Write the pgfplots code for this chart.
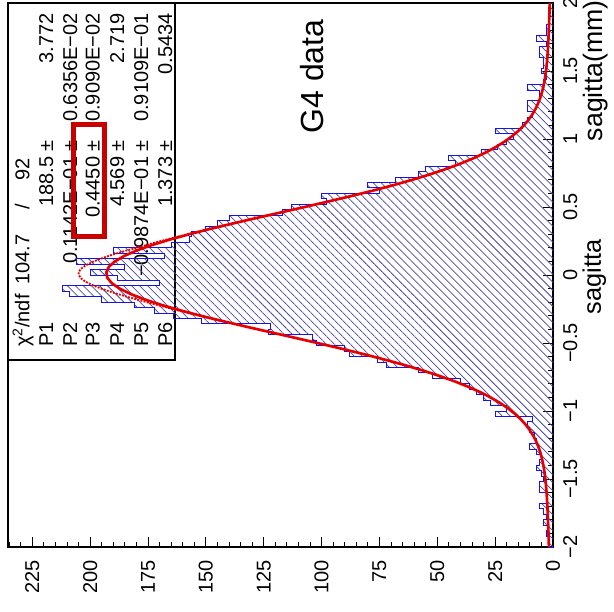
\documentclass[border=0pt]{standalone}
\usepackage{fontspec}
\setmainfont{Liberation Sans}
\usepackage{pgfplots}
\pgfplotsset{compat=1.18}
\usetikzlibrary{patterns.meta}
\definecolor{histblue}{RGB}{20,20,235}
\definecolor{hatchblue}{RGB}{70,70,165}
\definecolor{fitred}{RGB}{232,0,0}
\definecolor{boxred}{RGB}{200,0,0}
\newcommand\stf{\fontsize{15}{18}\selectfont}
\begin{document}
\begin{tikzpicture}
\begin{axis}[
  scale only axis, width=408.75pt, height=408pt,
  at={(0,0)}, anchor=south west,
  xmin=0, xmax=235.5, ymin=-2, ymax=2,
  x dir=reverse, clip=false,
  axis line style={line width=1pt, black},
  xtick={0,25,...,225}, xticklabels={0,25,50,75,100,125,150,175,200,225},
  minor xtick={5,10,...,235},
  ytick={-2,-1.5,...,2}, yticklabels={−2,−1.5,−1,−0.5,0,0.5,1,1.5,2},
  minor ytick={-1.9,-1.8,...,1.9},
  xtick pos=left, ytick pos=right, yticklabel pos=right,
  tick align=inside,
  major tick length=7.5pt, minor tick length=3.75pt,
  every tick/.style={black, line width=0.75pt},
  xticklabel style={font=\stf, inner sep=0pt, yshift=-9.75pt, rotate=90, anchor=east},
  yticklabel style={font=\stf, inner sep=0pt, xshift=7.5pt, rotate=90, anchor=north},
]
% stats box
\draw[line width=1pt, black] (axis cs:235.5,2) rectangle (axis cs:163.3,-0.625);
\begin{scope}[every node/.style={font=\stf, inner sep=0pt, rotate=90}]
\node[anchor=base west] at (axis cs:226.3,-0.529) {χ\textsuperscript{2}/ndf};
\node[anchor=base east] at (axis cs:226.3,0.301) {104.7};
\node[anchor=base] at (axis cs:226.3,0.5) {/};
\node[anchor=base east] at (axis cs:226.3,0.86) {92};
\node[anchor=base west] at (axis cs:216.0,-0.529) {P1};
\node[anchor=base east] at (axis cs:216.0,0.993) {188.5 ±};
\node[anchor=base east] at (axis cs:216.0,1.926) {3.772};
\node[anchor=base west] at (axis cs:205.6,-0.529) {P2};
\node[anchor=base east] at (axis cs:205.6,0.993) {0.1142E−01 ±};
\node[anchor=base east] at (axis cs:205.6,1.926) {0.6356E−02};
\node[anchor=base west] at (axis cs:195.9,-0.529) {P3};
\node[anchor=base east] at (axis cs:195.9,0.993) {0.4450 ±};
\node[anchor=base east] at (axis cs:195.9,1.926) {0.9090E−02};
\node[anchor=base west] at (axis cs:185.3,-0.529) {P4};
\node[anchor=base east] at (axis cs:185.3,0.993) {4.569 ±};
\node[anchor=base east] at (axis cs:185.3,1.926) {2.719};
\node[anchor=base west] at (axis cs:174.9,-0.529) {P5};
\node[anchor=base east] at (axis cs:174.9,0.993) {−0.9874E−01 ±};
\node[anchor=base east] at (axis cs:174.9,1.926) {0.9109E−01};
\node[anchor=base west] at (axis cs:164.6,-0.529) {P6};
\node[anchor=base east] at (axis cs:164.6,0.993) {1.373 ±};
\node[anchor=base east] at (axis cs:164.6,1.926) {0.5434};
\end{scope}
% histogram (counts per bin of 0.04)
\addplot[draw=histblue, line width=0.75pt, pattern={Lines[angle=-45,distance=4.25pt,line width=0.55pt]}, pattern color=hatchblue] coordinates {
(0,-2.00)
(2,-2.00) (2,-1.96) (2,-1.96) (2,-1.92) (3,-1.92) (3,-1.88) (2,-1.88) (2,-1.84)
(4,-1.84) (4,-1.80) (3,-1.80) (3,-1.76) (4,-1.76) (4,-1.72) (6,-1.72) (6,-1.68)
(3,-1.68) (3,-1.64) (3,-1.64) (3,-1.60) (6,-1.60) (6,-1.56) (6,-1.56) (6,-1.52)
(4,-1.52) (4,-1.48) (5,-1.48) (5,-1.44) (7,-1.44) (7,-1.40) (6,-1.40) (6,-1.36)
(5,-1.36) (5,-1.32) (7,-1.32) (7,-1.28) (10,-1.28) (10,-1.24) (7,-1.24) (7,-1.20)
(8,-1.20) (8,-1.16) (10,-1.16) (10,-1.12) (11,-1.12) (11,-1.08) (9,-1.08) (9,-1.04)
(25,-1.04) (25,-1.00) (20,-1.00) (20,-0.96) (27,-0.96) (27,-0.92) (30,-0.92) (30,-0.88)
(33,-0.88) (33,-0.84) (36,-0.84) (36,-0.80) (40,-0.80) (40,-0.76) (52,-0.76) (52,-0.72)
(58,-0.72) (58,-0.68) (72,-0.68) (72,-0.64) (76,-0.64) (76,-0.60) (88,-0.60) (88,-0.56)
(90,-0.56) (90,-0.52) (102,-0.52) (102,-0.48) (104,-0.48) (104,-0.44) (123,-0.44) (123,-0.40)
(122,-0.40) (122,-0.36) (152,-0.36) (152,-0.32) (164,-0.32) (164,-0.28) (172,-0.28) (172,-0.24)
(181,-0.24) (181,-0.20) (195,-0.20) (195,-0.16) (209,-0.16) (209,-0.12) (212,-0.12) (212,-0.08)
(170,-0.08) (170,-0.04) (188,-0.04) (188,0.00) (200,0.00) (200,0.04) (185,0.04) (185,0.08)
(206,0.08) (206,0.12) (168,0.12) (168,0.16) (190,0.16) (190,0.20) (165,0.20) (165,0.24)
(157,0.24) (157,0.28) (156,0.28) (156,0.32) (150,0.32) (150,0.36) (145,0.36) (145,0.40)
(140,0.40) (140,0.44) (117,0.44) (117,0.48) (113,0.48) (113,0.52) (98,0.52) (98,0.56)
(100,0.56) (100,0.60) (75,0.60) (75,0.64) (80,0.64) (80,0.68) (68,0.68) (68,0.72)
(58,0.72) (58,0.76) (55,0.76) (55,0.80) (42,0.80) (42,0.84) (45,0.84) (45,0.88)
(31,0.88) (31,0.92) (24,0.92) (24,0.96) (20,0.96) (20,1.00) (17,1.00) (17,1.04)
(25,1.04) (25,1.08) (13,1.08) (13,1.12) (11,1.12) (11,1.16) (9,1.16) (9,1.20)
(11,1.20) (11,1.24) (11,1.24) (11,1.28) (6,1.28) (6,1.32) (6,1.32) (6,1.36)
(11,1.36) (11,1.40) (4,1.40) (4,1.44) (3,1.44) (3,1.48) (5,1.48) (5,1.52)
(4,1.52) (4,1.56) (4,1.56) (4,1.60) (6,1.60) (6,1.64) (6,1.64) (6,1.68)
(3,1.68) (3,1.72) (7,1.72) (7,1.76) (3,1.76) (3,1.80) (3,1.80) (3,1.84)
(2,1.84) (2,1.88) (2,1.88) (2,1.92) (1,1.92) (1,1.96) (1,1.96) (1,2.00)
(0,2.00)
};
% dotted fit
\addplot[fitred, line width=1.4pt, densely dotted, smooth] coordinates {
(142.6,-0.34) (152.5,-0.30) (162.0,-0.26) (171.1,-0.22) (179.8,-0.18) (188.0,-0.14)
(195.2,-0.10) (200.8,-0.06) (204.2,-0.02) (205.0,0.02) (202.9,0.06) (198.4,0.10)
(192.0,0.14) (184.3,0.18) (175.9,0.22) (167.1,0.26) (157.8,0.30) (148.2,0.34)
};
% solid fit
\addplot[fitred, line width=2pt] coordinates {
(1.76,-2.00) (1.80,-1.98) (1.87,-1.94) (1.95,-1.90) (2.03,-1.86) (2.12,-1.82) (2.22,-1.78)
(2.32,-1.74) (2.43,-1.70) (2.56,-1.66) (2.70,-1.62) (2.87,-1.58) (3.07,-1.54) (3.30,-1.50)
(3.59,-1.46) (3.94,-1.42) (4.38,-1.38) (4.91,-1.34) (5.57,-1.30) (6.38,-1.26) (7.37,-1.22)
(8.59,-1.18) (10.06,-1.14) (11.83,-1.10) (13.96,-1.06) (16.50,-1.02) (19.48,-0.98)
(22.96,-0.94) (27.00,-0.90) (31.63,-0.86) (36.89,-0.82) (42.81,-0.78) (49.41,-0.74)
(56.67,-0.70) (64.60,-0.66) (73.15,-0.62) (82.25,-0.58) (91.82,-0.54) (101.78,-0.50)
(111.97,-0.46) (122.28,-0.42) (132.50,-0.38) (142.50,-0.34) (152.10,-0.30) (161.05,-0.26)
(169.21,-0.22) (176.41,-0.18) (182.48,-0.14) (187.26,-0.10) (190.66,-0.06) (192.59,-0.02)
(193.01,0.02) (191.92,0.06) (189.33,0.10) (185.29,0.14) (179.91,0.18) (173.35,0.22)
(165.68,0.26) (157.12,0.30) (147.86,0.34) (138.06,0.38) (127.92,0.42) (117.63,0.46)
(107.33,0.50) (97.20,0.54) (87.36,0.58) (77.97,0.62) (69.09,0.66) (60.79,0.70)
(53.14,0.74) (46.13,0.78) (39.82,0.82) (34.17,0.86) (29.18,0.90) (24.80,0.94)
(21.00,0.98) (17.72,1.02) (14.94,1.06) (12.58,1.10) (10.60,1.14) (8.96,1.18) (7.60,1.22)
(6.48,1.26) (5.57,1.30) (4.83,1.34) (4.22,1.38) (3.74,1.42) (3.34,1.46) (3.02,1.50)
(2.76,1.54) (2.54,1.58) (2.36,1.62) (2.21,1.66) (2.08,1.70) (1.96,1.74) (1.86,1.78)
(1.77,1.82) (1.68,1.86) (1.60,1.90) (1.53,1.94) (1.46,1.98) (1.43,2.00)
};
% highlight box
\draw[boxred, line width=3.75pt] (axis cs:207.2,1.108) rectangle (axis cs:193.7,0.282);
% titles
\node[font=\fontsize{24}{28}\selectfont, rotate=90, inner sep=0pt] at (axis cs:103.9,1.46) {G4 data};
\node[font=\fontsize{20}{24}\selectfont, inner sep=0pt, xshift=22.5pt, yshift=2.25pt, rotate=90, anchor=north east] at (axis cs:0,2) {sagitta(mm)};
\node[font=\fontsize{19}{23}\selectfont, inner sep=0pt, xshift=22pt, rotate=90, anchor=north] at (axis cs:0,-0.015) {sagitta};
\end{axis}
\pgfresetboundingbox
\path[use as bounding box] (-6pt,-48pt) rectangle (454.5pt,410.25pt);
\end{tikzpicture}
\end{document}
